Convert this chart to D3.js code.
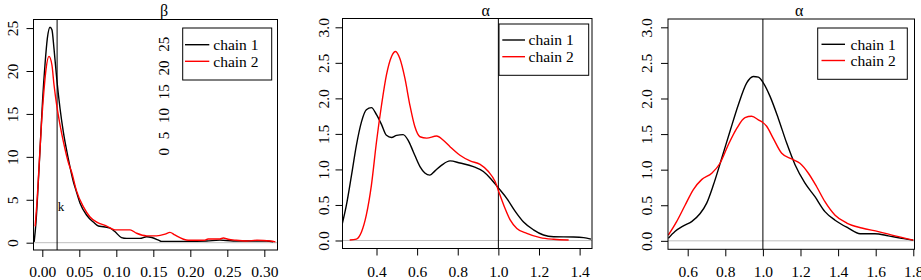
<!DOCTYPE html>
<html>
<head>
<meta charset="utf-8">
<script src="https://cdn.jsdelivr.net/npm/d3@7/dist/d3.min.js"></script>
<style>
  body { margin: 0; background: #fff; }
  svg { display: block; }
  svg text { font-family: "Liberation Serif", "Tinos", "Times New Roman", Times, "DejaVu Serif", serif !important; fill: #000; }
</style>
</head>
<body>
<div id="chart"></div>
<script>
// density curves, [x, density]
const betaChain1 = [[-0.011,0.1],[-0.0085,2.4],[-0.0058,6.4],[-0.003,11],[0.0005,16.8],[0.0036,20.7],[0.0068,23.8],[0.0104,25.1],[0.013,24.8],[0.0158,22.6],[0.0195,19.1],[0.024,15.6],[0.0284,12.9],[0.0351,9.8],[0.042,7.1],[0.0455,6.1],[0.051,4.6],[0.06,3.2],[0.069,2.4],[0.0757,1.94],[0.0825,1.86],[0.0915,1.7],[0.098,1.3],[0.107,0.6],[0.114,0.5],[0.132,0.5],[0.141,0.7],[0.148,0.6],[0.157,0.3],[0.161,0.15],[0.195,0.15],[0.222,0.2],[0.24,0.3],[0.258,0.2],[0.276,0.2],[0.303,0.2],[0.312,0.1]];
const betaChain2 = [[-0.0097,1.9],[-0.007,5],[-0.004,9.5],[-0.001,14],[0.002,17.5],[0.005,20.2],[0.009,21.7],[0.013,20.7],[0.0158,18.4],[0.0195,16.0],[0.024,13.7],[0.0284,11.8],[0.035,9.4],[0.0397,8.2],[0.046,6.1],[0.0554,4.2],[0.0645,3.0],[0.0735,2.4],[0.087,1.94],[0.098,1.5],[0.1185,1.5],[0.1275,1.1],[0.141,0.8],[0.1545,0.8],[0.166,1.0],[0.1725,1.2],[0.179,0.9],[0.19,0.43],[0.197,0.28],[0.219,0.28],[0.224,0.43],[0.24,0.43],[0.2445,0.55],[0.251,0.4],[0.262,0.28],[0.276,0.2],[0.29,0.28],[0.308,0.2],[0.315,0.1]];

const alphaAChain1 = [[0.232,0.24],[0.252,0.5],[0.277,0.92],[0.301,1.34],[0.326,1.67],[0.35,1.84],[0.375,1.87],[0.4,1.77],[0.425,1.63],[0.449,1.48],[0.474,1.45],[0.499,1.48],[0.531,1.49],[0.556,1.41],[0.581,1.25],[0.614,1.04],[0.638,0.95],[0.663,0.92],[0.688,0.98],[0.721,1.06],[0.762,1.12],[0.811,1.09],[0.877,1.04],[0.926,0.97],[0.959,0.88],[1.0,0.74],[1.042,0.59],[1.083,0.41],[1.124,0.26],[1.173,0.15],[1.222,0.077],[1.272,0.053],[1.37,0.049],[1.42,0.04],[1.456,0.02]];
const alphaAChain2 = [[0.268,0.007],[0.301,0.02],[0.326,0.12],[0.35,0.36],[0.375,0.78],[0.4,1.39],[0.425,1.91],[0.449,2.33],[0.474,2.59],[0.494,2.66],[0.515,2.56],[0.54,2.28],[0.564,1.91],[0.589,1.6],[0.614,1.46],[0.647,1.44],[0.696,1.47],[0.729,1.41],[0.762,1.32],[0.811,1.2],[0.861,1.12],[0.91,1.07],[0.951,0.97],[0.984,0.83],[1.008,0.64],[1.033,0.45],[1.058,0.29],[1.091,0.17],[1.14,0.1],[1.206,0.04],[1.272,0.017],[1.346,0.007]];

const alphaBChain1 = [[0.497,0.035],[0.532,0.13],[0.577,0.21],[0.621,0.27],[0.665,0.38],[0.701,0.53],[0.736,0.78],[0.781,1.16],[0.825,1.54],[0.869,1.91],[0.914,2.22],[0.949,2.31],[0.976,2.3],[1.002,2.22],[1.038,2.03],[1.082,1.72],[1.127,1.37],[1.171,1.07],[1.224,0.81],[1.277,0.62],[1.33,0.41],[1.384,0.29],[1.454,0.18],[1.517,0.1],[1.596,0.1],[1.667,0.07],[1.738,0.035],[1.8,0.01]];
const alphaBChain2 = [[0.497,0.08],[0.541,0.27],[0.586,0.5],[0.63,0.72],[0.674,0.86],[0.728,0.95],[0.772,1.09],[0.816,1.35],[0.861,1.58],[0.905,1.73],[0.94,1.75],[0.976,1.7],[1.02,1.61],[1.055,1.44],[1.1,1.23],[1.153,1.15],[1.197,1.09],[1.242,0.95],[1.286,0.76],[1.33,0.55],[1.384,0.36],[1.446,0.25],[1.526,0.18],[1.614,0.13],[1.703,0.07],[1.8,0.01]];

const chainNames = ["chain 1", "chain 2"];
const chainColors = ["#000000", "#ff0000"];

const betaXTicks = [0, 0.05, 0.10, 0.15, 0.20, 0.25, 0.30];
const betaYTicks = [0, 5, 10, 15, 20, 25];
const alphaAXTicks = [0.4, 0.6, 0.8, 1.0, 1.2, 1.4];
const alphaBXTicks = [0.6, 0.8, 1.0, 1.2, 1.4, 1.6, 1.8];
const alphaYTicks = [0, 0.5, 1.0, 1.5, 2.0, 2.5, 3.0];
const strayLabels = ["0", "5", "10", "15", "20", "25"];

const W = 921, H = 280;
const FONT = '"Liberation Serif", Tinos, "Times New Roman", Times, "DejaVu Serif", serif';
const svg = d3.select("#chart").append("svg")
    .attr("width", W).attr("height", H)
    .attr("font-family", FONT);

const panels = [
    { title: "β", titleX: 164, data: [betaChain1, betaChain2],
      box: { l: 33.5, r: 277.5, t: 19.5, b: 250 },
      xd: [-0.0119, 0.3178], yd: [-0.85, 26.0],
      xt: betaXTicks, yt: betaYTicks, xf: d3.format(".2f"), yf: d3.format("d"),
      vline: 0.02, ylab: 20.8,
      leg: { x: 182.7, y: 28, w: 89, h: 52, l0: 185, l1: 209.3, tx: 213.3, r0: 44.7, r1: 61.3 } },
    { title: "α", titleX: 485.7, data: [alphaAChain1, alphaAChain2],
      box: { l: 342.5, r: 592, t: 18.5, b: 248.5 },
      xd: [0.2326, 1.461], yd: [-0.1126, 3.124],
      xt: alphaAXTicks, yt: alphaYTicks, xf: d3.format(".1f"), yf: d3.format(".1f"),
      vline: 1.0, ylab: 18.5,
      leg: { x: 499, y: 24, w: 89.7, h: 51.3, l0: 502.3, l1: 525, tx: 528.5, r0: 40, r1: 56.7 } },
    { title: "α", titleX: 799.3, data: [alphaBChain1, alphaBChain2],
      box: { l: 668, r: 914.5, t: 19, b: 249.3 },
      xd: [0.4952, 1.8064], yd: [-0.119, 3.117],
      xt: alphaBXTicks, yt: alphaYTicks, xf: d3.format(".1f"), yf: d3.format(".1f"),
      vline: 1.0, ylab: 21.7,
      leg: { x: 817.7, y: 28, w: 89.6, h: 51.3, l0: 821.5, l1: 845, tx: 850.5, r0: 44.3, r1: 60.5 } }
];

panels.forEach((p, i) => {
    const b = p.box;
    const x = d3.scaleLinear().domain(p.xd).range([b.l, b.r]);
    const y = d3.scaleLinear().domain(p.yd).range([b.b, b.t]);
    const g = svg.append("g");

    g.append("clipPath").attr("id", "clip" + i)
      .append("rect").attr("x", b.l).attr("y", b.t)
      .attr("width", b.r - b.l).attr("height", b.b - b.t);

    // zero line
    g.append("line")
        .attr("x1", b.l).attr("x2", b.r)
        .attr("y1", y(0)).attr("y2", y(0))
        .attr("stroke", "#bebebe").attr("stroke-width", 1);

    // reference line
    g.append("line")
        .attr("x1", x(p.vline)).attr("x2", x(p.vline))
        .attr("y1", b.t).attr("y2", b.b)
        .attr("stroke", "#000").attr("stroke-width", 1);

    const line = d3.line().x(d => x(d[0])).y(d => y(d[1])).curve(d3.curveMonotoneX);
    p.data.forEach((s, k) => {
        g.append("path")
            .attr("d", line(s))
            .attr("clip-path", `url(#clip${i})`)
            .attr("fill", "none")
            .attr("stroke", chainColors[k])
            .attr("stroke-width", 1.4);
    });

    // axes
    const xa = g.append("g").attr("transform", `translate(0,${b.b})`)
        .call(d3.axisBottom(x).tickValues(p.xt).tickFormat(p.xf).tickSize(7).tickSizeOuter(0));
    xa.attr("font-family", FONT).attr("font-size", 15.5);
    xa.select(".domain").remove();
    xa.selectAll("text").attr("y", 271.5 - b.b).attr("dy", "0.35em");

    const ya = g.append("g").attr("transform", `translate(${b.l},0)`)
        .call(d3.axisLeft(y).tickValues(p.yt).tickFormat(p.yf).tickSize(7).tickSizeOuter(0));
    ya.attr("font-family", FONT).attr("font-size", 15.5);
    ya.select(".domain").remove();
    ya.selectAll("text")
        .attr("transform", "rotate(-90)")
        .attr("x", 0).attr("y", -p.ylab).attr("dy", "0.35em")
        .attr("text-anchor", "middle");
    g.selectAll(".tick line").attr("stroke", "#000");

    // frame
    g.append("rect")
        .attr("x", b.l).attr("y", b.t)
        .attr("width", b.r - b.l).attr("height", b.b - b.t)
        .attr("fill", "none").attr("stroke", "#000").attr("stroke-width", 1);

    g.append("text")
        .attr("x", p.titleX).attr("y", 10).attr("dy", "0.35em")
        .attr("text-anchor", "middle")
        .attr("font-size", 16)
        .text(p.title);

    // legend
    const L = p.leg;
    g.append("rect")
        .attr("x", L.x).attr("y", L.y).attr("width", L.w).attr("height", L.h)
        .attr("fill", "#fff").attr("stroke", "#000").attr("stroke-width", 1);
    [L.r0, L.r1].forEach((ry, k) => {
        g.append("line")
            .attr("x1", L.l0).attr("x2", L.l1).attr("y1", ry).attr("y2", ry)
            .attr("stroke", chainColors[k]).attr("stroke-width", 1.4);
        g.append("text")
            .attr("x", L.tx).attr("y", ry).attr("dy", "0.35em")
            .attr("font-size", 15.5)
            .text(chainNames[k]);
    });
});

// extra bits in the beta panel
svg.append("text")
    .attr("x", 61).attr("y", 206.5).attr("dy", "0.35em")
    .attr("text-anchor", "middle")
    .attr("font-size", 13)
    .text("k");

svg.append("text")
    .attr("transform", "translate(164,96) rotate(-90)")
    .attr("dy", "0.35em")
    .attr("text-anchor", "middle")
    .attr("font-size", 15)
    .attr("word-spacing", 5)
    .text(strayLabels.join(" "));
</script>
</body>
</html>
